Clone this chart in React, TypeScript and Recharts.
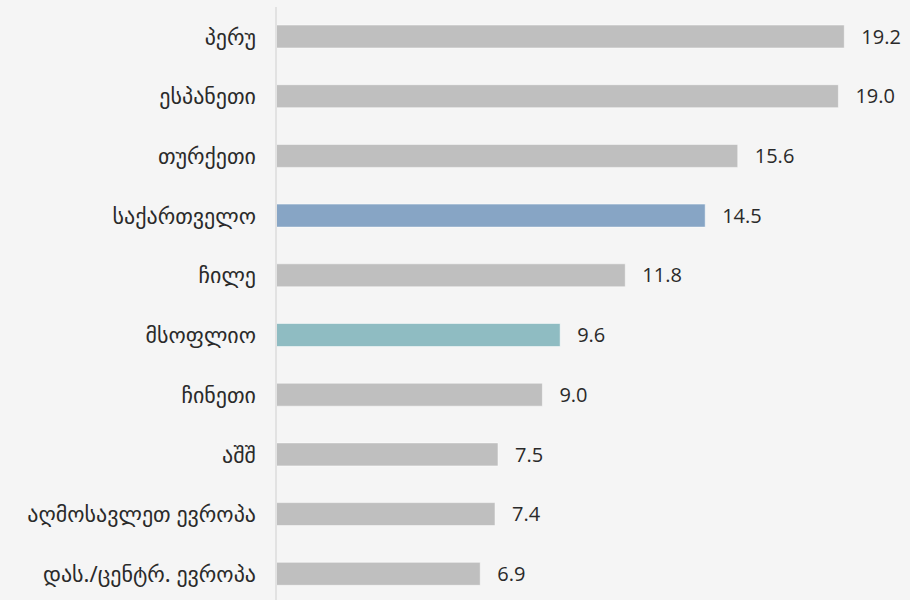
import React from "react";
import { BarChart, Bar, XAxis, YAxis, Cell, LabelList } from "recharts";

const categories = [
  "პერუ",
  "ესპანეთი",
  "თურქეთი",
  "საქართველო",
  "ჩილე",
  "მსოფლიო",
  "ჩინეთი",
  "აშშ",
  "აღმოსავლეთ ევროპა",
  "დას./ცენტრ. ევროპა",
];
const values = [19.2, 19.0, 15.6, 14.5, 11.8, 9.6, 9.0, 7.5, 7.4, 6.9];
const colors = [
  "#bfbfbf",
  "#bfbfbf",
  "#bfbfbf",
  "#87a5c5",
  "#bfbfbf",
  "#8fbcc2",
  "#bfbfbf",
  "#bfbfbf",
  "#bfbfbf",
  "#bfbfbf",
];

const data = categories.map((name, i) => ({ name, value: values[i], color: colors[i] }));

const NUM_FONT = "'Open Sans', sans-serif";
const GEO_FONT = "'Noto Sans', 'DejaVu Sans', sans-serif";

export default function App() {
  return (
    <div
      style={{
        position: "fixed",
        left: 0,
        top: 0,
        width: 910,
        height: 600,
        background: "#f5f5f5",
        overflow: "hidden",
      }}
    >
      <BarChart
        layout="vertical"
        width={910}
        height={604}
        data={data}
        margin={{ top: 7, right: 42, bottom: 0, left: 0 }}
        barCategoryGap={0}
      >
        <XAxis type="number" domain={[0, 20]} hide />
        <YAxis
          type="category"
          dataKey="name"
          width={276}
          tickLine={false}
          tickSize={0}
          tickMargin={20}
          axisLine={{ stroke: "#e2e2e2", strokeWidth: 2 }}
          tick={{ fill: "#2a2a2a", fontSize: 22, fontFamily: GEO_FONT }}
          interval={0}
        />
        <Bar dataKey="value" barSize={23} isAnimationActive={false} stroke="#ffffff" strokeOpacity={0.5} strokeWidth={1}>
          {data.map((d, i) => (
            <Cell key={i} fill={d.color} />
          ))}
          <LabelList
            dataKey="value"
            position="right"
            offset={17}
            formatter={(v: number) => v.toFixed(1)}
            style={{ fill: "#2a2a2a", fontSize: 20, fontFamily: NUM_FONT }}
          />
        </Bar>
      </BarChart>
    </div>
  );
}
